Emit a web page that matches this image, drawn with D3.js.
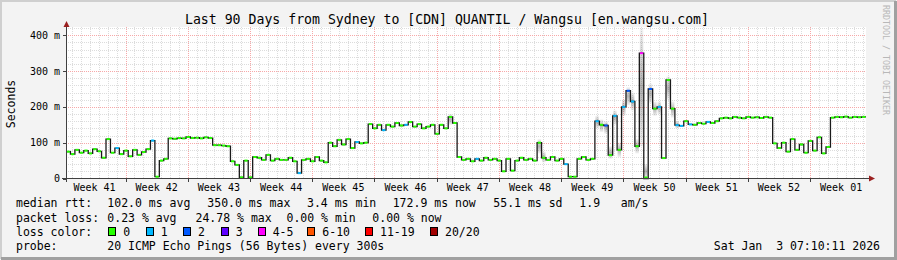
<!DOCTYPE html>
<html>
<head>
<meta charset="utf-8">
<script src="https://cdn.jsdelivr.net/npm/d3@7"></script>
<style>
	body { margin: 0; background: #f3f3f3; }
	svg text { font-family: "DejaVu Sans Mono", monospace; fill: #000; }
</style>
</head>
<body>
<svg id="chart" width="897" height="260"></svg>
<script>

// Median rtt (ms), one value per 12 hours over the 90 days
var medianRtt = [
	75,68,80,72,78,70,82,76,58,110,
	72,85,68,78,62,80,66,74,82,106,
	5,50,55,112,111,113,112,116,113,114,
	112,115,113,93,93,92,90,48,38,3,
	50,3,60,58,52,66,50,55,52,52,
	58,48,15,52,55,48,60,50,45,100,
	90,108,95,110,85,102,98,100,152,140,
	150,135,150,145,155,148,150,158,145,152,
	140,145,150,125,150,140,172,155,60,52,
	55,48,55,50,58,52,55,50,20,55,
	22,50,58,52,55,50,100,58,52,60,
	50,55,40,5,5,55,60,52,55,160,
	150,148,65,175,80,200,245,215,90,350,
	0,250,195,200,57,275,195,149,147,160,
	151,150,155,153,158,155,160,168,170,168,
	172,170,168,172,170,171,169,172,170,98,
	85,100,75,110,80,95,72,105,78,115,
	70,88,170,172,171,173,170,172,171,172
];

// points with packet loss: index into medianRtt and loss colour bucket
var lossAt     = [11,19,52,65,71,76,92,112,119,121,123,125,126,127,129,131,133,137,138,140,144];
var lossBucket = [ 1, 1, 1, 1, 1, 1, 1,  1,  1,  2,  1,  1,  2,  1,  4,  2,  1,  1,  1,  1,  1];

// smoke (spread of the pings) where it is visible
var smokeAt = [86,106,107,119,120,121,122,123,124,125,126,127,128,129,130,131,132,133,135,136,137];
var smokeLo = [150,70,45,140,130,125,55,150,60,175,205,190,70,90,0,210,175,180,220,170,140];
var smokeHi = [180,110,75,175,165,160,90,190,100,220,255,240,110,420,40,265,215,215,285,215,160];

var lossLabels = ["0", "1", "2", "3", "4-5", "6-10", "11-19", "20/20"];
var lossColors = ["#26ff00", "#00b8ff", "#0059ff", "#5e00ff", "#ff00fe", "#ff5500", "#ff0000", "#a10000"];

var yTicks = [0, 100, 200, 300, 400];
var yTickLabels = ["0", "100 m", "200 m", "300 m", "400 m"];

var rttStats = ["102.0 ms avg", "350.0 ms max", "3.4 ms min", "172.9 ms now", "55.1 ms sd", "1.9   am/s"];
var lossStats = ["0.23 % avg", "24.78 % max", "0.00 % min", "0.00 % now"];

var titleText = "Last 90 Days from Sydney to [CDN] QUANTIL / Wangsu [en.wangsu.com]";
var probeText = "20 ICMP Echo Pings (56 Bytes) every 300s";
var dateText = "Sat Jan  3 07:10:11 2026";

var start = new Date(Date.UTC(2025, 9, 5, 7, 10, 11));
var end = new Date(Date.UTC(2026, 0, 3, 7, 10, 11));

var svg = d3.select("#chart");

// frame
svg.append("rect").attr("width", 897).attr("height", 260).attr("fill", "#f3f3f3");
svg.append("path").attr("d", "M1,259V1H896").attr("fill", "none").attr("stroke", "#cfcfcf").attr("stroke-width", 2);
svg.append("path").attr("d", "M1,258.5H895.5V1").attr("fill", "none").attr("stroke", "#a0a0a0").attr("stroke-width", 3);

var x = d3.scaleUtc().domain([start, end]).range([66, 866]);
var y = d3.scaleLinear().domain([0, 420]).range([178.5, 28.1]);

var tOf = function(i) { return d3.utcHour.offset(start, i * 12); };

// canvas
svg.append("rect").attr("x", 66).attr("y", 27).attr("width", 800).attr("height", 151.5).attr("fill", "#fff");

// grid
var grid = svg.append("g").attr("stroke-width", 1).attr("stroke-dasharray", "1,1");
var days = d3.utcDay.range(start, end);
var weeks = d3.utcSunday.range(start, end);
grid.selectAll(".dday").data(days).enter().append("line")
	.attr("x1", function(d) { return Math.round(x(d)) + 0.5; })
	.attr("x2", function(d) { return Math.round(x(d)) + 0.5; })
	.attr("y1", 27).attr("y2", 178)
	.attr("stroke", "#dcdcdc");
grid.selectAll(".dval").data(d3.range(20, 421, 20)).enter().append("line")
	.attr("x1", 66).attr("x2", 866)
	.attr("y1", function(d) { return Math.round(y(d)) + 0.5; })
	.attr("y2", function(d) { return Math.round(y(d)) + 0.5; })
	.attr("stroke", "#dcdcdc");
grid.selectAll(".wk").data(weeks).enter().append("line")
	.attr("x1", function(d) { return Math.round(x(d)) + 0.5; })
	.attr("x2", function(d) { return Math.round(x(d)) + 0.5; })
	.attr("y1", 27).attr("y2", 178)
	.attr("stroke", "#f7a8a8");
grid.selectAll(".mval").data(yTicks.slice(1)).enter().append("line")
	.attr("x1", 66).attr("x2", 866)
	.attr("y1", function(d) { return Math.round(y(d)) + 0.5; })
	.attr("y2", function(d) { return Math.round(y(d)) + 0.5; })
	.attr("stroke", "#f7a8a8");

// smoke
var defs = svg.append("defs");
var grad = defs.append("linearGradient").attr("id", "smoke").attr("x1", 0).attr("x2", 0).attr("y1", 0).attr("y2", 1);
grad.append("stop").attr("offset", "0%").attr("stop-color", "#000").attr("stop-opacity", 0.05);
grad.append("stop").attr("offset", "50%").attr("stop-color", "#000").attr("stop-opacity", 0.3);
grad.append("stop").attr("offset", "100%").attr("stop-color", "#000").attr("stop-opacity", 0.05);

svg.append("g").selectAll("rect").data(smokeAt).enter().append("rect")
	.attr("x", function(d) { return x(tOf(d)) + 0.5; })
	.attr("width", function(d) { return x(tOf(d + 1)) - x(tOf(d)) - 1; })
	.attr("y", function(d, i) { return y(smokeHi[i]); })
	.attr("height", function(d, i) { return y(smokeLo[i]) - y(smokeHi[i]); })
	.attr("fill", "url(#smoke)");

// median line: dark steps, then loss-coloured flats on top
var pts = medianRtt.map(function(v, i) { return [tOf(i), v]; });
pts.push([end, medianRtt[medianRtt.length - 1]]);

var stepLine = d3.line()
	.x(function(d) { return x(d[0]); })
	.y(function(d) { return y(d[1]); })
	.curve(d3.curveStepAfter);

svg.append("path").datum(pts)
	.attr("d", stepLine)
	.attr("fill", "none")
	.attr("stroke", "#1a1a1a")
	.attr("stroke-width", 1.3);

var lossOf = function(i) {
	var k = lossAt.indexOf(i);
	return k < 0 ? 0 : lossBucket[k];
};

svg.append("g").selectAll("line").data(medianRtt).enter().append("line")
	.attr("x1", function(d, i) { return x(tOf(i)) + 0.6; })
	.attr("x2", function(d, i) { return x(tOf(i + 1)) - 0.6; })
	.attr("y1", function(d) { return Math.min(y(d), 177.5); })
	.attr("y2", function(d) { return Math.min(y(d), 177.5); })
	.attr("stroke", function(d, i) { return lossColors[lossOf(i)]; })
	.attr("stroke-width", 2);

// axes
var axisColor = "#404040";
svg.append("line").attr("x1", 62).attr("x2", 870).attr("y1", 178.5).attr("y2", 178.5).attr("stroke", axisColor);
svg.append("line").attr("x1", 66.5).attr("x2", 66.5).attr("y1", 182).attr("y2", 25).attr("stroke", axisColor);
svg.append("path").attr("d", "M869,175.5L875,178.5L869,181.5Z").attr("fill", "#9b2020");
svg.append("path").attr("d", "M63.5,27L66.5,21L69.5,27Z").attr("fill", "#9b2020");

// ticks
svg.selectAll(".ytk").data(yTicks).enter().append("line")
	.attr("x1", 63).attr("x2", 66)
	.attr("y1", function(d) { return Math.round(y(d)) + 0.5; })
	.attr("y2", function(d) { return Math.round(y(d)) + 0.5; })
	.attr("stroke", axisColor);
svg.selectAll(".xtk").data(weeks).enter().append("line")
	.attr("x1", function(d) { return Math.round(x(d)) + 0.5; })
	.attr("x2", function(d) { return Math.round(x(d)) + 0.5; })
	.attr("y1", 179).attr("y2", 182)
	.attr("stroke", axisColor);

svg.selectAll(".ylab").data(yTicks).enter().append("text")
	.attr("x", 60)
	.attr("y", function(d) { return y(d) + 3.5; })
	.attr("text-anchor", "end")
	.style("font-size", "10px")
	.text(function(d, i) { return yTickLabels[i]; });

// week labels, centred in each week
var isoWeek = d3.utcFormat("%V");
var weekStarts = d3.utcSunday.range(d3.utcSunday.floor(start), end);
weekStarts.forEach(function(s) {
	var mid = d3.utcHour.offset(s, 84);
	if (mid < start || mid > end) return;
	svg.append("text")
		.attr("x", x(mid))
		.attr("y", 190.7)
		.attr("text-anchor", "middle")
		.style("font-size", "10px")
		.text("Week " + isoWeek(d3.utcDay.offset(s, 4)));
});

// titles
svg.append("text").attr("x", 447).attr("y", 23.5).attr("text-anchor", "middle")
	.style("font-size", "13.2px").text(titleText);
svg.append("text").attr("transform", "translate(15,104) rotate(-90)").attr("text-anchor", "middle")
	.style("font-size", "11.5px").text("Seconds");
svg.append("text").attr("transform", "translate(883,5) rotate(90)")
	.style("font-size", "8.3px").style("fill", "#b8b8b8").text("RRDTOOL / TOBI OETIKER");

// legend
var fs = "11.5px";
var rowY = [207.3, 221.7, 236, 250.4];
var col = 107.3;

svg.append("text").attr("x", 16).attr("y", rowY[0]).style("font-size", fs).text("median rtt:");
var rttX = [107.3, 207.3, 307, 392.7, 493.3, 579.3];
rttStats.forEach(function(s, i) {
	svg.append("text").attr("x", rttX[i]).attr("y", rowY[0]).style("font-size", fs).style("white-space", "pre").text(s);
});

svg.append("text").attr("x", 16).attr("y", rowY[1]).style("font-size", fs).text("packet loss:");
var lossX = [107.3, 195.5, 286.5, 372.3];
lossStats.forEach(function(s, i) {
	svg.append("text").attr("x", lossX[i]).attr("y", rowY[1]).style("font-size", fs).text(s);
});

svg.append("text").attr("x", 16).attr("y", rowY[2]).style("font-size", fs).text("loss color:");
var boxX = [108.3, 145.7, 183, 220.7, 257.7, 307.3, 365, 430];
lossLabels.forEach(function(s, i) {
	svg.append("rect").attr("x", Math.round(boxX[i]) + 0.5).attr("y", rowY[2] - 8.5).attr("width", 7).attr("height", 8)
		.attr("fill", lossColors[i]).attr("stroke", "#000").attr("stroke-width", 1);
	svg.append("text").attr("x", boxX[i] + 15).attr("y", rowY[2]).style("font-size", fs).text(s);
});

svg.append("text").attr("x", 16).attr("y", rowY[3]).style("font-size", fs).text("probe:");
svg.append("text").attr("x", col).attr("y", rowY[3]).style("font-size", fs).text(probeText);
svg.append("text").attr("x", 880).attr("y", rowY[3]).attr("text-anchor", "end")
	.style("font-size", fs).style("white-space", "pre").text(dateText);

</script>
</body>
</html>
